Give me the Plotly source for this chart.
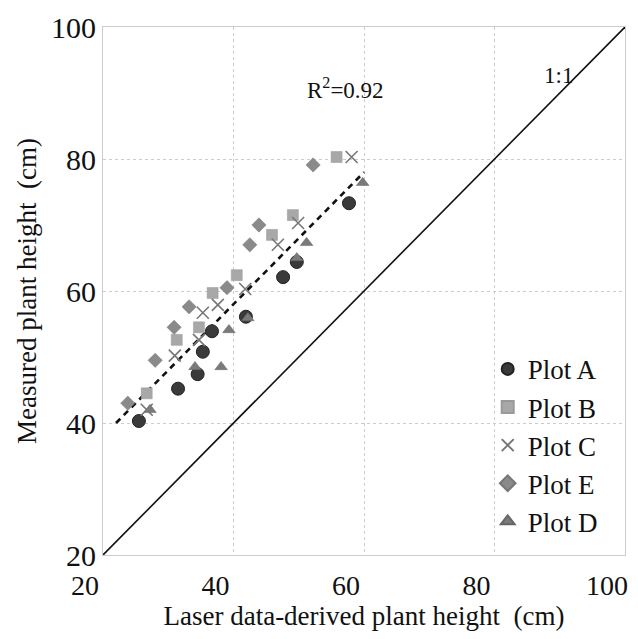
import plotly.graph_objects as go

# Data (laser-derived x, measured y)
a_x = [25.5, 31.5, 34.5, 35.3, 36.7, 41.9, 47.6, 49.7, 57.7]
a_y = [40.3, 45.2, 47.4, 50.8, 53.9, 56.1, 62.1, 64.4, 73.3]
b_x = [26.7, 31.3, 34.7, 36.8, 40.5, 45.9, 49.1, 55.8]
b_y = [44.5, 52.6, 54.5, 59.7, 62.4, 68.5, 71.5, 80.3]
c_x = [26.7, 31.0, 34.7, 35.3, 37.6, 41.8, 46.8, 49.9, 58.1]
c_y = [42.0, 50.2, 52.6, 56.7, 57.9, 60.3, 67.0, 70.3, 80.3]
e_x = [23.8, 28.0, 30.9, 33.2, 39.0, 42.5, 43.9, 52.2]
e_y = [43.0, 49.5, 54.5, 57.6, 60.5, 67.0, 70.0, 79.1]
d_x = [27.2, 34.1, 38.1, 39.3, 42.2, 49.7, 51.2, 59.8]
d_y = [42.0, 48.5, 48.5, 54.1, 55.9, 65.0, 67.3, 76.4]

fit_x = [22.0, 60.0]
fit_y = [40.0, 78.0]
one_x = [20, 100]
one_y = [20, 100]

tick_vals = [20, 40, 60, 80, 100]

FONT = "Liberation Serif"

fig = go.Figure()

# 1:1 line and regression line (not in legend)
fig.add_trace(go.Scatter(x=one_x, y=one_y, mode="lines",
                         line=dict(color="#111", width=1.6), showlegend=False, hoverinfo="skip"))
fig.add_trace(go.Scatter(x=fit_x, y=fit_y, mode="lines",
                         line=dict(color="#111", width=2.6, dash="6px,5px"), showlegend=False, hoverinfo="skip"))

series = [
    ("Plot A", a_x, a_y, dict(symbol="circle", size=13, color="#3a3a3a", line=dict(color="#222", width=1))),
    ("Plot B", b_x, b_y, dict(symbol="square", size=11, color="#a8a8a8", line=dict(color="#999", width=0.5))),
    ("Plot C", c_x, c_y, dict(symbol="x-thin", size=12, color="#777", line=dict(color="#777", width=1.6))),
    ("Plot E", e_x, e_y, dict(symbol="diamond", size=11, color="#8a8a8a", line=dict(color="#777", width=0.5))),
    ("Plot D", d_x, d_y, dict(symbol="triangle-up", size=11, color="#7a7a7a", line=dict(color="#666", width=0.5))),
]
for name, xs, ys, mk in series:
    fig.add_trace(go.Scatter(x=xs, y=ys, mode="markers", name=name, marker=mk))

fig.add_annotation(x=0.465, y=0.915, xref="paper", yref="paper",
                   text="R<sup>2</sup>=0.92", showarrow=False,
                   font=dict(family=FONT, size=23, color="#111"))
fig.add_annotation(x=0.905, y=0.935, xref="paper", yref="paper",
                   text="1:1", showarrow=False,
                   font=dict(family=FONT, size=23, color="#111"))

axis_common = dict(range=[20, 100], tickvals=tick_vals, showgrid=True,
                   gridcolor="#cccccc", griddash="dot", gridwidth=1,
                   zeroline=False, showline=True, linecolor="#cccccc", mirror=True,
                   ticks="", automargin=False)

fig.update_layout(
    width=630, height=623,
    margin=dict(l=95, r=13, t=19, b=76),
    paper_bgcolor="white", plot_bgcolor="white",
    xaxis=dict(**axis_common, ticklabelshift=-18, ticklabelstandoff=5,
               tickfont=dict(family=FONT, size=28, color="#111"),
               title=dict(text="Laser data-derived plant height  (cm)",
                          font=dict(family=FONT, size=27, color="#111"), standoff=0)),
    yaxis=dict(**axis_common,
               tickfont=dict(family=FONT, size=30, color="#111"),
               title=dict(text="Measured plant height  (cm)",
                          font=dict(family=FONT, size=27, color="#111"), standoff=6)),
    legend=dict(x=0.737, y=0.398, xanchor="left", yanchor="top",
                bgcolor="rgba(255,255,255,0)", borderwidth=0,
                font=dict(family=FONT, size=27, color="#111"),
                itemwidth=30, tracegroupgap=0, itemsizing="constant"),
    showlegend=True,
)

fig.write_html("out.html")
